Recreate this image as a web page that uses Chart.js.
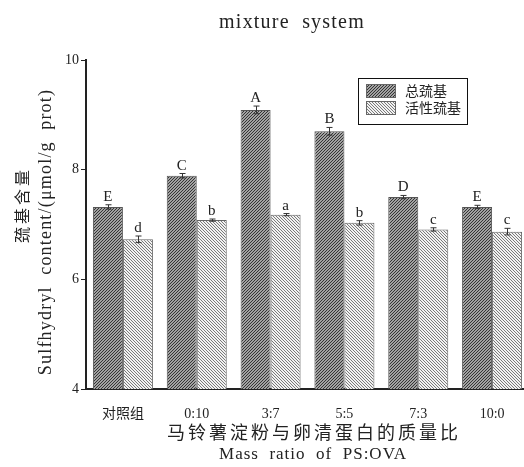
<!DOCTYPE html>
<html>
<head>
<meta charset="utf-8">
<script src="https://cdn.jsdelivr.net/npm/chart.js@4.4.1/dist/chart.umd.min.js"></script>
<style>
  html, body { margin: 0; padding: 0; background: #fff; overflow: hidden; }
  #wrap { width: 524px; height: 467px; overflow: hidden; }
</style>
</head>
<body>
<div id="wrap"><canvas id="chart" width="534" height="467"></canvas></div>
<script>
// data
const categories = ['对照组', '0:10', '3:7', '5:5', '7:3', '10:0'];
const totalSH = [7.32, 7.89, 9.09, 8.70, 7.50, 7.32];
const totalErr = [0.04, 0.04, 0.07, 0.07, 0.03, 0.03];
const activeSH = [6.73, 7.08, 7.18, 7.03, 6.91, 6.87];
const activeErr = [0.06, 0.02, 0.02, 0.04, 0.03, 0.06];
const totalLetters = ['E', 'C', 'A', 'B', 'D', 'E'];
const activeLetters = ['d', 'b', 'a', 'b', 'c', 'c'];
const yTicks = [4, 6, 8, 10];

const SERIF = '"Liberation Serif", "Noto Sans CJK SC", serif';
const CJK = '"Noto Sans CJK SC", sans-serif';

// hatch pattern: dir 1 = "/", -1 = "\"
function hatch(n, dir, bg, fg) {
    const c = document.createElement('canvas');
    c.width = n; c.height = n;
    const g = c.getContext('2d');
    g.fillStyle = bg;
    g.fillRect(0, 0, n, n);
    g.fillStyle = fg;
    for (let x = 0; x < n; x++) {
        for (let y = 0; y < n; y++) {
            const k = dir > 0 ? (x + y) % n : ((x - y) % n + n) % n;
            if (k === 0) g.fillRect(x, y, 1, 1);
        }
    }
    return g.createPattern(c, 'repeat');
}

const ctx0 = document.getElementById('chart').getContext('2d');
const darkFill = hatch(3, 1, '#a2a2a2', '#353535');
const lightFill = hatch(3, -1, '#f2f2f2', '#7a7a7a');

const errLetters = {
    id: 'errLetters',
    afterDatasetsDraw(chart) {
        const ctx = chart.ctx;
        const ys = chart.scales.y;
        const sets = [[totalErr, totalLetters], [activeErr, activeLetters]];
        ctx.save();
        sets.forEach(([errs, letters], di) => {
            const meta = chart.getDatasetMeta(di);
            const vals = chart.data.datasets[di].data;
            meta.data.forEach((bar, i) => {
                const x = Math.round(bar.x) + 0.5;
                const top = ys.getPixelForValue(vals[i] + errs[i]);
                const bot = ys.getPixelForValue(vals[i] - errs[i]);
                ctx.strokeStyle = '#333';
                ctx.lineWidth = 1;
                ctx.beginPath();
                ctx.moveTo(x, top); ctx.lineTo(x, bot);
                ctx.moveTo(x - 3, top); ctx.lineTo(x + 3, top);
                ctx.moveTo(x - 3, bot); ctx.lineTo(x + 3, bot);
                ctx.stroke();
                ctx.fillStyle = '#222';
                ctx.font = '15px ' + SERIF;
                ctx.textAlign = 'center';
                ctx.textBaseline = 'alphabetic';
                ctx.fillText(letters[i], bar.x, top - 4);
            });
        });
        ctx.restore();
    }
};

const decor = {
    id: 'decor',
    afterDraw(chart) {
        const ctx = chart.ctx;
        ctx.save();
        ctx.fillStyle = '#222';
        ctx.textAlign = 'center';
        ctx.textBaseline = 'middle';
        // title
        ctx.font = '20px ' + SERIF;
        ctx.letterSpacing = '1.2px';
        ctx.fillText('mixture  system', 292, 23);
        // x axis titles
        ctx.font = '18px ' + CJK;
        ctx.letterSpacing = '3px';
        ctx.fillText('马铃薯淀粉与卵清蛋白的质量比', 314, 432);
        ctx.letterSpacing = '1px';
        ctx.font = '17px ' + SERIF;
        ctx.fillText('Mass  ratio  of  PS:OVA', 313, 455);
        // y axis titles
        ctx.save();
        ctx.translate(22, 205);
        ctx.rotate(-Math.PI / 2);
        ctx.font = '16px ' + CJK;
        ctx.letterSpacing = '3px';
        ctx.fillText('巯基含量', 0, 0);
        ctx.restore();
        ctx.save();
        ctx.translate(46, 232);
        ctx.rotate(-Math.PI / 2);
        ctx.font = '18px ' + SERIF;
        ctx.letterSpacing = '1.2px';
        ctx.fillText('Sulfhydryl  content/(μmol/g  prot)', 0, 0);
        ctx.restore();
        ctx.letterSpacing = '0px';
        // legend
        ctx.strokeStyle = '#111';
        ctx.lineWidth = 1;
        ctx.strokeRect(358.5, 78.5, 109, 46);
        chart.data.datasets.forEach((ds, i) => {
            const y = 84 + i * 17;
            ctx.fillStyle = ds.backgroundColor;
            ctx.fillRect(366, y, 30, 14);
            ctx.strokeStyle = '#666';
            ctx.strokeRect(366.5, y + 0.5, 29, 13);
            ctx.fillStyle = '#222';
            ctx.textAlign = 'left';
            ctx.font = '14px ' + CJK;
            ctx.fillText(ds.label, 405, y + 7);
        });
        ctx.restore();
    }
};

new Chart(ctx0, {
    type: 'bar',
    data: {
        labels: categories,
        datasets: [{
            label: '总巯基',
            data: totalSH,
            backgroundColor: darkFill,
            borderColor: '#555',
            borderWidth: 1
        }, {
            label: '活性巯基',
            data: activeSH,
            backgroundColor: lightFill,
            borderColor: '#666',
            borderWidth: 1
        }]
    },
    options: {
        responsive: false,
        devicePixelRatio: 1,
        animation: false,
        layout: { padding: { top: 60, right: 5, left: 0, bottom: 0 } },
        datasets: { bar: { categoryPercentage: 0.8127, barPercentage: 1 } },
        plugins: { legend: { display: false }, tooltip: { enabled: false }, title: { display: false } },
        scales: {
            x: {
                grid: { display: false },
                border: { display: true, color: '#222', width: 2 },
                ticks: { color: '#222', font: { family: SERIF, size: 14 }, padding: 9 },
                afterFit(s) { s.height = 78; }
            },
            y: {
                min: 4,
                max: 10,
                afterBuildTicks(s) { s.ticks = yTicks.map(v => ({ value: v })); },
                grid: { drawOnChartArea: false, tickLength: 5, color: '#222', lineWidth: 1 },
                border: { display: true, color: '#222', width: 2 },
                ticks: { color: '#222', font: { family: SERIF, size: 14 }, padding: 2 },
                afterFit(s) { s.width = 86; }
            }
        }
    },
    plugins: [errLetters, decor]
});
</script>
</body>
</html>
